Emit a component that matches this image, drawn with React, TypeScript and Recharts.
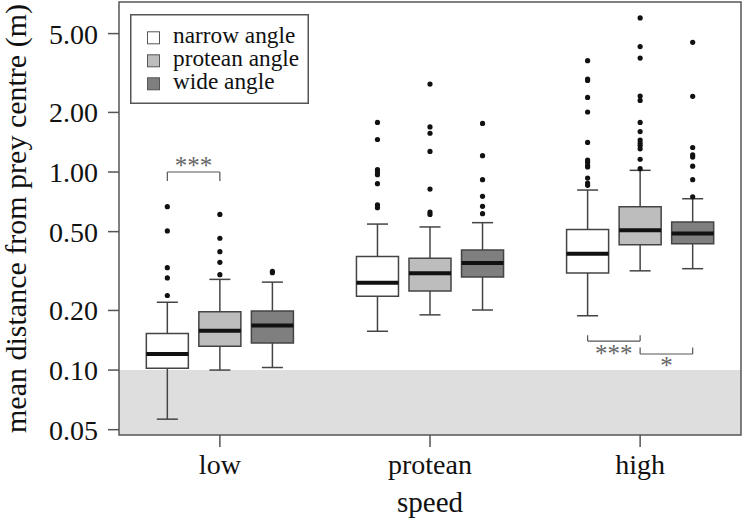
import {
  ComposedChart,
  XAxis,
  YAxis,
  Scatter,
  ReferenceArea,
  ReferenceLine,
  Legend,
} from "recharts";

const FONT = "'Liberation Serif', 'Times New Roman', serif";

const speeds = ["low", "protean", "high"];
const angles = ["narrow angle", "protean angle", "wide angle"];
const angleFills = ["#ffffff", "#bdbdbd", "#7f7f7f"];
const angleOffsets = [-0.25, 0, 0.25];

// one value per box, speed-major: low (narrow, protean, wide), protean (...), high (...)
const whiskerLow = [0.0565, 0.1, 0.103, 0.157, 0.19, 0.201, 0.188, 0.317, 0.325];
const quartile1 = [0.102, 0.132, 0.137, 0.236, 0.251, 0.295, 0.309, 0.429, 0.434];
const medians = [0.1205, 0.158, 0.168, 0.276, 0.308, 0.347, 0.387, 0.508, 0.49];
const quartile3 = [0.153, 0.197, 0.199, 0.375, 0.367, 0.404, 0.513, 0.668, 0.559];
const whiskerHigh = [0.22, 0.287, 0.278, 0.546, 0.528, 0.555, 0.811, 1.02, 0.733];

const outliers = [
  [0.668, 0.504, 0.329, 0.292, 0.238],
  [0.611, 0.463, 0.396, 0.35, 0.303],
  [0.315, 0.31],
  [1.78, 1.46, 1.03, 1.0, 0.97, 0.873, 0.682, 0.66],
  [2.78, 1.69, 1.57, 1.27, 0.82, 0.628, 0.611],
  [1.76, 1.21, 0.915, 0.754, 0.671, 0.616],
  [3.65, 2.95, 2.9, 2.38, 2.01, 1.41, 1.15, 1.12, 1.08, 1.06, 0.933, 0.88, 0.857],
  [6.0, 4.3, 3.76, 2.42, 2.3, 1.78, 1.6, 1.45, 1.4, 1.36, 1.31, 1.16, 1.04],
  [4.52, 2.41, 1.33, 1.22, 1.19, 1.07, 0.915, 0.75],
];

const yTicks = [0.05, 0.1, 0.2, 0.5, 1, 2, 5];
const xTicks = [1, 2, 3];
const xDomain = [0.52, 3.48];
const yDomain = [0.047, 7.22];
const threshold = 0.1;

// significance brackets: x from/to, y of bar, y of the bracket tips
const bracketFrom = [0.75, 2.75, 3.0];
const bracketTo = [1.0, 3.0, 3.25];
const bracketY = [1.0, 0.14, 0.1205];
const bracketTip = [0.9, 0.15, 0.13];
const bracketText = ["***", "***", "*"];
const bracketTextY = [0.975, 0.11, 0.0955];

const BOX_HALF = 0.1;
const CAP_HALF = 0.05;

const boxes = medians.map((m, i) => ({
  x: Math.floor(i / 3) + 1 + angleOffsets[i % 3],
  fill: angleFills[i % 3],
  lo: whiskerLow[i],
  q1: quartile1[i],
  med: m,
  q3: quartile3[i],
  hi: whiskerHigh[i],
}));

const outlierPoints = outliers.flatMap((vals, i) =>
  vals.map((v) => ({ x: boxes[i].x, y: v }))
);

const notes = bracketText.map((t, i) => ({
  x: (bracketFrom[i] + bracketTo[i]) / 2,
  y: bracketTextY[i],
  text: t,
}));

const STROKE = "#444";

function YLabel(props: any) {
  const vb = props.viewBox || { x: 0, y: 2, width: 119, height: 433 };
  const cy = vb.y + vb.height / 2;
  return (
    <text
      transform={`translate(${vb.x + 26}, ${cy}) rotate(-90)`}
      textAnchor="middle"
      fontFamily={FONT}
      fontSize={30}
      fill="#111"
    >
      mean distance from prey centre (m)
    </text>
  );
}

function XLabel(props: any) {
  const vb = props.viewBox || { x: 119, y: 435, width: 622, height: 83 };
  return (
    <text
      x={vb.x + vb.width / 2}
      y={vb.y + 77}
      textAnchor="middle"
      fontFamily={FONT}
      fontSize={29}
      fill="#111"
    >
      speed
    </text>
  );
}

function LegendBox() {
  return (
    <svg width={179} height={90} style={{ display: "block" }}>
      <rect x={0.75} y={0.75} width={177.5} height={88.5} fill="#fff" stroke="#555" strokeWidth={1.5} />
      {angles.map((a, i) => {
        const base = 29.3 + i * 23;
        return (
          <g key={a}>
            <rect x={17.5} y={base - 11.5} width={12} height={12} fill={angleFills[i]} stroke="#555" strokeWidth={1} />
            <text x={43} y={base} fontFamily={FONT} fontSize={23.3} fill="#111">
              {a}
            </text>
          </g>
        );
      })}
    </svg>
  );
}

export default function App() {
  return (
    <div style={{ position: "fixed", left: 0, top: 0, background: "#fff" }}>
      <ComposedChart
        width={743}
        height={518}
        margin={{ top: 2, right: 2, bottom: 0, left: 0 }}
      >
        <XAxis
          type="number"
          dataKey="x"
          domain={xDomain}
          allowDataOverflow
          ticks={xTicks}
          interval={0}
          tickFormatter={(v: number) => speeds[v - 1] ?? ""}
          height={83}
          tickSize={12}
          tickMargin={7}
          axisLine={false}
          tickLine={{ stroke: "#555", strokeWidth: 1.5 }}
          tick={{ fontSize: 28, fontFamily: FONT, fill: "#111" }}
          label={XLabel}
        />
        <YAxis
          type="number"
          dataKey="y"
          scale="log"
          domain={yDomain}
          allowDataOverflow
          ticks={yTicks}
          interval={0}
          tickFormatter={(v: number) => v.toFixed(2)}
          width={119}
          tickSize={11}
          tickMargin={10}
          axisLine={false}
          tickLine={{ stroke: "#555", strokeWidth: 1.5 }}
          tick={{ fontSize: 28, fontFamily: FONT, fill: "#111" }}
          label={YLabel}
        />

        <ReferenceArea
          x1={xDomain[0]}
          x2={xDomain[1]}
          y1={yDomain[0]}
          y2={threshold}
          fill="#dedede"
          fillOpacity={1}
          stroke="none"
        />

        {boxes.map((b, i) => (
          <ReferenceLine
            key={`wl${i}`}
            segment={[{ x: b.x, y: b.lo }, { x: b.x, y: b.q1 }]}
            stroke={STROKE}
            strokeWidth={1.5}
          />
        ))}
        {boxes.map((b, i) => (
          <ReferenceLine
            key={`wh${i}`}
            segment={[{ x: b.x, y: b.q3 }, { x: b.x, y: b.hi }]}
            stroke={STROKE}
            strokeWidth={1.5}
          />
        ))}
        {boxes.map((b, i) => (
          <ReferenceLine
            key={`cl${i}`}
            segment={[{ x: b.x - CAP_HALF, y: b.lo }, { x: b.x + CAP_HALF, y: b.lo }]}
            stroke={STROKE}
            strokeWidth={1.5}
          />
        ))}
        {boxes.map((b, i) => (
          <ReferenceLine
            key={`ch${i}`}
            segment={[{ x: b.x - CAP_HALF, y: b.hi }, { x: b.x + CAP_HALF, y: b.hi }]}
            stroke={STROKE}
            strokeWidth={1.5}
          />
        ))}
        {boxes.map((b, i) => (
          <ReferenceArea
            key={`bx${i}`}
            x1={b.x - BOX_HALF}
            x2={b.x + BOX_HALF}
            y1={b.q1}
            y2={b.q3}
            fill={b.fill}
            fillOpacity={1}
            stroke={STROKE}
            strokeWidth={1.5}
          />
        ))}
        {boxes.map((b, i) => (
          <ReferenceLine
            key={`md${i}`}
            segment={[{ x: b.x - BOX_HALF, y: b.med }, { x: b.x + BOX_HALF, y: b.med }]}
            stroke="#111"
            strokeWidth={4}
          />
        ))}

        {bracketFrom.map((f, i) => (
          <ReferenceLine
            key={`br${i}`}
            segment={[{ x: f, y: bracketY[i] }, { x: bracketTo[i], y: bracketY[i] }]}
            stroke="#555"
            strokeWidth={1.2}
          />
        ))}
        {bracketFrom.map((f, i) => (
          <ReferenceLine
            key={`bt1${i}`}
            segment={[{ x: f, y: bracketY[i] }, { x: f, y: bracketTip[i] }]}
            stroke="#555"
            strokeWidth={1.2}
          />
        ))}
        {bracketTo.map((t, i) => (
          <ReferenceLine
            key={`bt2${i}`}
            segment={[{ x: t, y: bracketY[i] }, { x: t, y: bracketTip[i] }]}
            stroke="#555"
            strokeWidth={1.2}
          />
        ))}

        <ReferenceArea
          x1={xDomain[0]}
          x2={xDomain[1]}
          y1={yDomain[0]}
          y2={yDomain[1]}
          fill="none"
          stroke="#555"
          strokeWidth={1.5}
        />

        <Scatter
          data={outlierPoints}
          isAnimationActive={false}
          shape={(p: any) => <circle cx={p.cx} cy={p.cy} r={2.6} fill="#111" />}
        />
        <Scatter
          data={notes}
          isAnimationActive={false}
          shape={(p: any) => (
            <text
              x={p.cx}
              y={p.cy}
              textAnchor="middle"
              fontFamily={FONT}
              fontSize={25}
              fill="#666"
            >
              {p.payload.text}
            </text>
          )}
        />

        <Legend
          layout="horizontal"
          verticalAlign="middle"
          align="center"
          wrapperStyle={{ left: 130, top: 14, width: 179, height: 90 }}
          content={LegendBox}
        />
      </ComposedChart>
    </div>
  );
}
